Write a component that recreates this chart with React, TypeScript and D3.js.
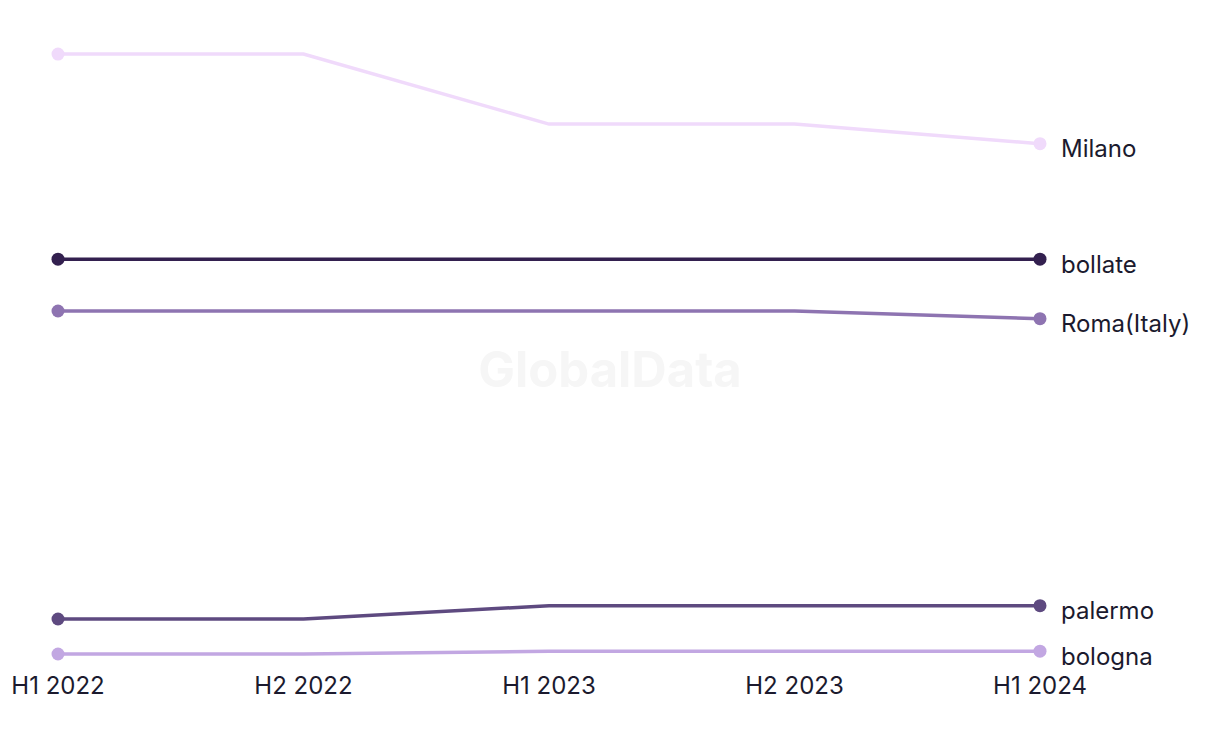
import React from "react";
import * as d3 from "d3";

const periods = ["H1 2022", "H2 2022", "H1 2023", "H2 2023", "H1 2024"];
const seriesNames = ["Milano", "bollate", "Roma(Italy)", "palermo", "bologna"];
const milano = [87.7, 87.7, 77.7, 77.7, 74.9];
const bollate = [58.4, 58.4, 58.4, 58.4, 58.4];
const roma = [51, 51, 51, 51, 49.9];
const palermo = [7, 7, 8.9, 8.9, 8.9];
const bologna = [2, 2, 2.4, 2.4, 2.4];
const colors = ["#f0dafb", "#33204f", "#8e74b1", "#5e4a80", "#c2a7e2"];

const W = 1220;
const H = 744;

export default function App() {
  const all = [milano, bollate, roma, palermo, bologna];
  const x = d3.scalePoint<string>().domain(periods).range([58, 1040]);
  const y = d3.scaleLinear().domain([0, 90]).range([668, 38]);
  const line = d3
    .line<number>()
    .x((_, i) => x(periods[i]) as number)
    .y((d) => y(d))
    .curve(d3.curveLinear);
  const font = "Inter, 'Open Sans', sans-serif";
  return (
    <svg
      width={W}
      height={H}
      style={{ position: "absolute", left: 0, top: 0, background: "#fff" }}
    >
      <text
        x={610}
        y={374}
        textAnchor="middle"
        dominantBaseline="middle"
        fontFamily={font}
        fontWeight={700}
        fontSize={49}
        fill="#f6f6f6"
      >
        GlobalData
      </text>
      {all.map((vals, si) => (
        <g key={seriesNames[si]}>
          <path
            d={line(vals) || ""}
            fill="none"
            stroke={colors[si]}
            strokeWidth={3.5}
          />
          <circle cx={x(periods[0])} cy={y(vals[0])} r={6.5} fill={colors[si]} />
          <circle
            cx={x(periods[periods.length - 1])}
            cy={y(vals[vals.length - 1])}
            r={6.5}
            fill={colors[si]}
          />
          <text
            x={(x(periods[periods.length - 1]) as number) + 21}
            y={y(vals[vals.length - 1]) + 7}
            dominantBaseline="middle"
            fontFamily={font}
            fontSize={24}
            fill="#1b1a2e"
          >
            {seriesNames[si]}
          </text>
        </g>
      ))}
      {periods.map((p) => (
        <text
          key={p}
          x={x(p)}
          y={694}
          textAnchor="middle"
          fontFamily={font}
          fontSize={24}
          fill="#1b1a2e"
        >
          {p}
        </text>
      ))}
    </svg>
  );
}
